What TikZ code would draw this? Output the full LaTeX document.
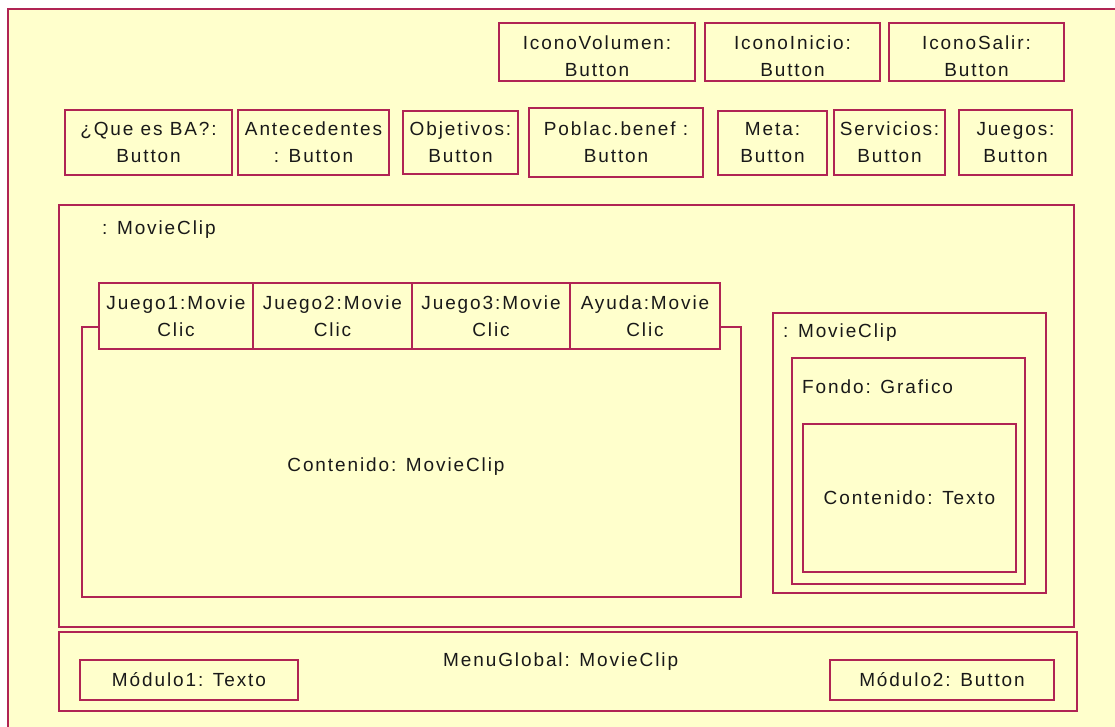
\documentclass[tikz,border=0pt]{standalone}
\usepackage{fontspec}
\newfontfamily\uifont{Liberation Sans}[LetterSpace=10]
\definecolor{frame}{RGB}{176,36,84}
\definecolor{cream}{RGB}{255,255,204}
\definecolor{ink}{RGB}{25,25,25}
\tikzset{
  uitext/.style={text=ink, font=\uifont\fontsize{19}{27}\selectfont},
  box/.style={uitext, draw=frame, line width=1.6pt, fill=cream, inner sep=0pt, outer sep=0pt, align=center},
  lbl/.style={uitext, inner sep=0pt, anchor=base west},
  lowtext/.style={label={[uitext, align=center, inner sep=0pt, yshift=-4pt]center:{#1}}},
}
\begin{document}
\begin{tikzpicture}[x=1pt,y=-1pt]
\useasboundingbox (0,0) rectangle (1115,727);
\fill[white] (0,0) rectangle (1115,727);
% outer frame
\fill[cream] (8,9) rectangle (1115,727);
\draw[frame, line width=1.6pt] (8,727) -- (8,9) -- (1115,9);

% top row
\node[box, minimum width=196pt, minimum height=58pt, lowtext={IconoVolumen:\\Button}] (vol) at (597,52) {};
\node[box, minimum width=175pt, minimum height=58pt, lowtext={IconoInicio:\\Button}] (ini) at (792.5,52) {};
\node[box, minimum width=175pt, minimum height=58pt, lowtext={IconoSalir:\\Button}] (sal) at (976.5,52) {};

% second row
\node[box, minimum width=167pt, minimum height=65pt] (que) at (148.5,142.5) {¿Que es BA?:\\Button};
\node[box, minimum width=151pt, minimum height=65pt] (ant) at (313.5,142.5) {Antecedentes\\: Button};
\node[box, minimum width=115pt, minimum height=63pt] (obj) at (460.5,142.5) {Objetivos:\\Button};
\node[box, minimum width=174pt, minimum height=69pt] (pob) at (616,142.5) {Poblac.benef :\\Button};
\node[box, minimum width=109pt, minimum height=64pt] (meta) at (772.5,143) {Meta:\\Button};
\node[box, minimum width=111pt, minimum height=65pt] (serv) at (889.5,142.5) {Servicios:\\Button};
\node[box, minimum width=113pt, minimum height=65pt] (jue) at (1015.5,142.5) {Juegos:\\Button};

% main movie clip
\node[box, minimum width=1015pt, minimum height=422pt] (mc) at (566.5,416) {};
\node[lbl] (mclbl) at (102,235) {: MovieClip};

% content panel with tabs
\node[box, minimum width=659pt, minimum height=270pt] (cont) at (411.5,462) {};
\node[uitext, inner sep=0pt] (contlbl) at (396,467) {Contenido: MovieClip};
\node[box, minimum width=154pt, minimum height=66pt] (j1) at (176,316) {Juego1:Movie\\Clic};
\node[box, minimum width=159pt, minimum height=66pt] (j2) at (332.5,316) {Juego2:Movie\\Clic};
\node[box, minimum width=158pt, minimum height=66pt] (j3) at (491,316) {Juego3:Movie\\Clic};
\node[box, minimum width=150pt, minimum height=66pt] (ay) at (645,316) {Ayuda:Movie\\Clic};

% right movie clip
\node[box, minimum width=273pt, minimum height=280pt] (rmc) at (909.5,453) {};
\node[lbl] (rmclbl) at (783,337) {: MovieClip};
\node[box, minimum width=233pt, minimum height=226pt] (fondo) at (908.5,471) {};
\node[lbl] (fondolbl) at (802,393) {Fondo: Grafico};
\node[box, minimum width=213pt, minimum height=148pt] (ctexto) at (909.5,498) {Contenido: Texto};

% global menu
\node[box, minimum width=1018pt, minimum height=79pt] (menu) at (568,671.5) {};
\node[lbl] (menulbl) at (443,666) {MenuGlobal: MovieClip};
\node[box, minimum width=218pt, minimum height=40pt] (mod1) at (189,680) {Módulo1: Texto};
\node[box, minimum width=224pt, minimum height=40pt] (mod2) at (942,680) {Módulo2: Button};
\end{tikzpicture}
\end{document}
